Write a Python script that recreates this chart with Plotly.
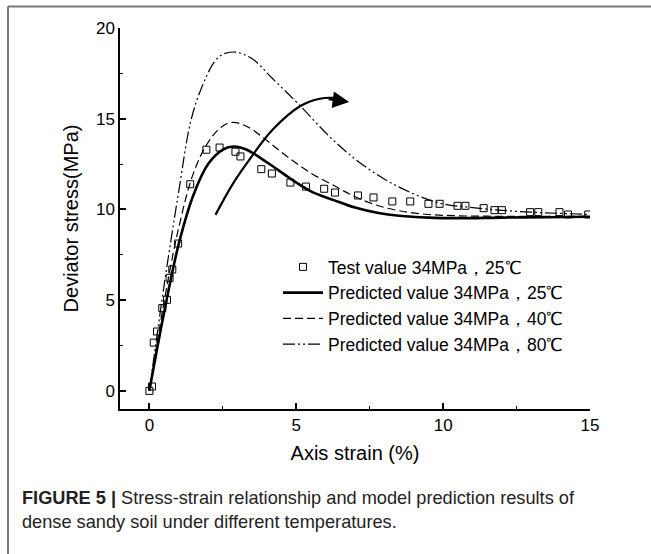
import plotly.graph_objects as go

# ---- data ----
test_x = [0, 0.09, 0.15, 0.26, 0.44, 0.6, 0.69, 0.78, 0.98, 1.39, 1.94, 2.39, 2.93, 3.1,
          3.81, 4.17, 4.8, 5.33, 5.95, 6.32, 7.1, 7.63, 8.27, 8.88, 9.5, 9.88, 10.49, 10.76,
          11.38, 11.75, 12.0, 12.96, 13.24, 13.96, 14.25, 14.94]
test_y = [0, 0.24, 2.66, 3.27, 4.56, 5.02, 6.23, 6.69, 8.12, 11.39, 13.29, 13.41, 13.18, 12.92,
          12.22, 11.98, 11.48, 11.26, 11.14, 10.93, 10.77, 10.66, 10.44, 10.44, 10.31, 10.31, 10.2, 10.2,
          10.07, 9.96, 9.96, 9.85, 9.85, 9.85, 9.72, 9.72]

p25_x = [0, 0.5, 1.0, 1.5, 2.0, 2.5, 2.87, 3.3, 4.0, 4.8, 5.5, 6.3, 7.0, 7.8, 8.5, 9.5, 10.5, 12, 13.5, 15]
p25_y = [0, 4.3, 8.1, 10.8, 12.5, 13.3, 13.47, 13.3, 12.6, 11.7, 11.0, 10.5, 10.1, 9.8, 9.65, 9.55, 9.52, 9.55, 9.57, 9.6]

p40_x = [0, 0.5, 1.0, 1.5, 2.0, 2.5, 2.87, 3.4, 4.0, 4.7, 5.5, 6.3, 7.0, 7.8, 8.6, 9.5, 10.5, 12, 13.5, 15]
p40_y = [0, 4.9, 9.0, 12.0, 13.7, 14.6, 14.8, 14.5, 13.8, 12.9, 12.0, 11.3, 10.7, 10.2, 9.9, 9.72, 9.65, 9.62, 9.62, 9.62]

p80_x = [0, 0.5, 1.0, 1.4, 1.75, 2.2, 2.5, 2.93, 3.5, 4.2, 5.14, 6.27, 7.4, 8.54, 9.88, 11.0, 12.0, 13.0, 14.0, 15]
p80_y = [0, 5.8, 11.0, 14.8, 16.6, 18.1, 18.55, 18.67, 18.3, 17.2, 15.7, 13.8, 12.3, 11.2, 10.35, 10.1, 9.95, 9.85, 9.78, 9.72]

arrow_x = [2.25, 2.8, 3.32, 4.2, 5.14, 5.8, 6.27, 6.6]
arrow_y = [9.7, 11.3, 12.55, 14.4, 15.7, 16.1, 16.15, 16.05]
arrow_tip = (6.8, 15.92)

names = ["Test value 34MPa，25℃", "Predicted value 34MPa，25℃",
         "Predicted value 34MPa，40℃", "Predicted value 34MPa，80℃"]

x_ticks = [0, 5, 10, 15]
y_ticks = [0, 5, 10, 15, 20]

FONT = "Liberation Sans, Arial, Helvetica, sans-serif"

fig = go.Figure()
fig.add_trace(go.Scatter(x=test_x, y=test_y, mode="markers", name=names[0],
                         marker=dict(symbol="square-open", size=7, color="black",
                                     line=dict(width=1, color="black"))))
fig.add_trace(go.Scatter(x=p25_x, y=p25_y, mode="lines", name=names[1],
                         line=dict(color="black", width=2.6, shape="spline", smoothing=1.0)))
fig.add_trace(go.Scatter(x=p40_x, y=p40_y, mode="lines", name=names[2],
                         line=dict(color="black", width=1.2, dash="8px,4px", shape="spline", smoothing=1.0)))
fig.add_trace(go.Scatter(x=p80_x, y=p80_y, mode="lines", name=names[3],
                         line=dict(color="black", width=1.2, dash="12px,3px,2px,3px,2px,3px",
                                   shape="spline", smoothing=1.0)))
fig.add_trace(go.Scatter(x=arrow_x, y=arrow_y, mode="lines", showlegend=False,
                         line=dict(color="black", width=2.2, shape="spline", smoothing=1.0)))

# arrow head at the end of the curved arrow (tail offset given in pixels)
fig.add_annotation(x=arrow_tip[0], y=arrow_tip[1], xref="x", yref="y",
                   ax=-22, ay=-3, showarrow=True, arrowhead=2, arrowsize=1.5,
                   arrowwidth=2.2, arrowcolor="black", text="")

# plot area in pixels: x 120..590, y 28..409
def px(xp):
    return (xp - 120) / 470.0

def py(yp):
    return (409 - yp) / 381.0

fig.add_annotation(x=px(20), y=py(498), xref="paper", yref="paper", xanchor="left", yanchor="middle",
                   showarrow=False, align="left",
                   text="<b>FIGURE 5 |</b> Stress-strain relationship and model prediction results of",
                   font=dict(family=FONT, size=18.2, color="#222"))
fig.add_annotation(x=px(20), y=py(522), xref="paper", yref="paper", xanchor="left", yanchor="middle",
                   showarrow=False, align="left",
                   text="dense sandy soil under different temperatures.",
                   font=dict(family=FONT, size=18.2, color="#222"))

# figure frame (top and left edges)
fig.add_shape(type="line", xref="paper", yref="paper", x0=px(8), x1=px(660), y0=py(6.5), y1=py(6.5),
              line=dict(color="#777", width=2))
fig.add_shape(type="line", xref="paper", yref="paper", x0=px(8), x1=px(8), y0=py(6.5), y1=py(560),
              line=dict(color="#777", width=2))

axis_common = dict(showline=True, linecolor="black", linewidth=1.5, mirror=False,
                   ticks="inside", ticklen=6, tickwidth=1.5, tickcolor="black",
                   showgrid=False, zeroline=False,
                   tickfont=dict(family=FONT, size=17, color="black"),
                   minor=dict(ticks="inside", ticklen=3, tickwidth=1.2, tickcolor="black", dtick=2.5, tick0=0))

fig.update_xaxes(range=[-1, 15], tickvals=x_ticks, ticktext=[str(v) for v in x_ticks],
                 title=dict(text="Axis strain (%)", font=dict(family=FONT, size=20, color="black"), standoff=12),
                 **axis_common)
fig.update_yaxes(range=[-1, 20], tickvals=y_ticks, ticktext=[str(v) for v in y_ticks],
                 title=dict(text="Deviator stress(MPa)", font=dict(family=FONT, size=20, color="black"), standoff=12),
                 **axis_common)

fig.update_layout(
    width=651, height=554,
    margin=dict(l=120, r=61, t=28, b=145),
    paper_bgcolor="white", plot_bgcolor="white",
    font=dict(family=FONT, color="black"),
    legend=dict(x=px(278), y=py(249), xanchor="left", yanchor="top",
                bgcolor="rgba(0,0,0,0)", font=dict(family=FONT, size=17.5, color="black"),
                tracegroupgap=0, itemwidth=40),
    showlegend=True,
)

fig.write_html("out.html")
